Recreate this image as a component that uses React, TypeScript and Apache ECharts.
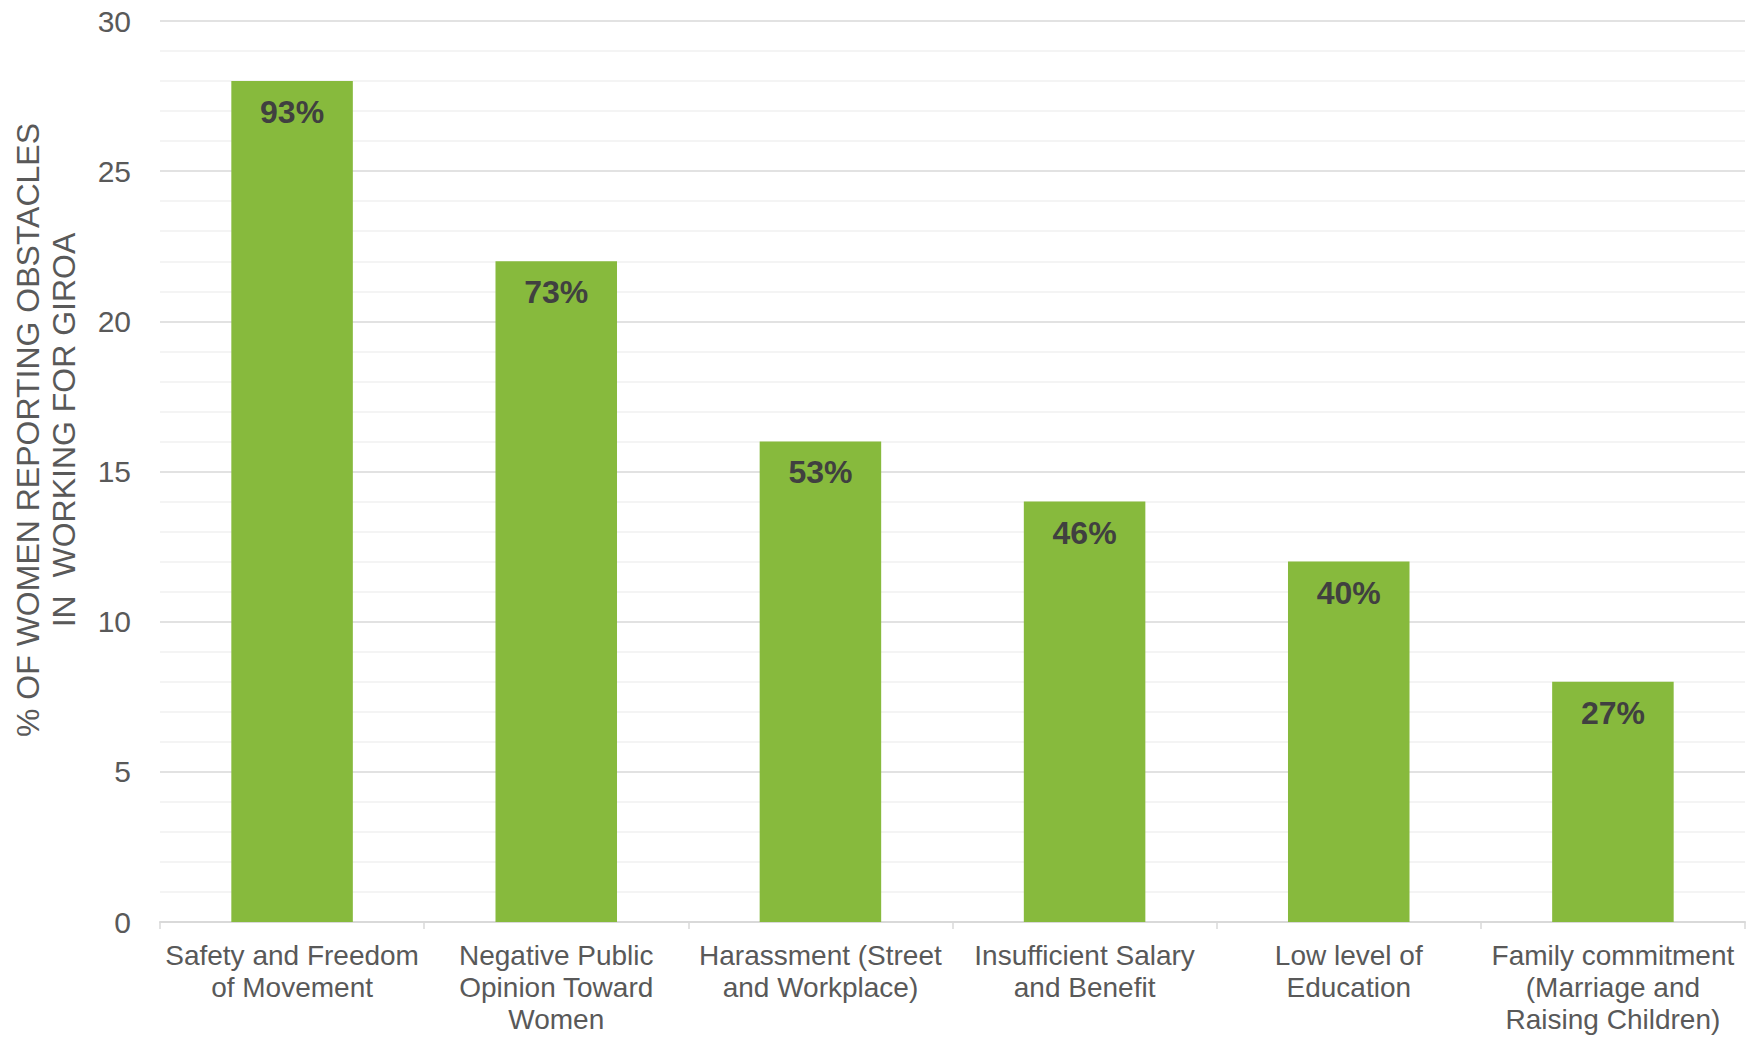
import React, { useEffect, useRef } from "react";
import * as echarts from "echarts";

const categories = [
  "Safety and Freedom\nof Movement",
  "Negative Public\nOpinion Toward\nWomen",
  "Harassment (Street\nand Workplace)",
  "Insufficient Salary\nand Benefit",
  "Low level of\nEducation",
  "Family commitment\n(Marriage and\nRaising Children)",
];
const counts = [28, 22, 16, 14, 12, 8];
const percentLabels = ["93%", "73%", "53%", "46%", "40%", "27%"];
const yAxisTitle = "% OF WOMEN REPORTING OBSTACLES\nIN  WORKING FOR GIROA";

const FONT = '"Liberation Sans", Arial, sans-serif';

export default function App() {
  const ref = useRef<HTMLDivElement>(null);
  useEffect(() => {
    if (!ref.current) return;
    const chart = echarts.init(ref.current, null, { renderer: "svg" });
    chart.setOption({
      animation: false,
      backgroundColor: "#ffffff",
      grid: { left: 160, right: 7, top: 21, bottom: 115, containLabel: false },
      xAxis: {
        type: "category",
        data: categories,
        axisLine: { show: true, lineStyle: { color: "#d9d9d9", width: 2 } },
        axisTick: { show: true, alignWithLabel: false, length: 7, lineStyle: { color: "#d9d9d9", width: 1.5 } },
        axisLabel: {
          interval: 0,
          margin: 17,
          color: "#595959",
          fontSize: 28,
          lineHeight: 32,
          fontFamily: FONT,
          align: "center",
        },
        splitLine: { show: false },
      },
      yAxis: {
        type: "value",
        min: 0,
        max: 30,
        interval: 5,
        axisLine: { show: false },
        axisTick: { show: false },
        axisLabel: { color: "#595959", fontSize: 30, fontFamily: FONT, margin: 29 },
        splitLine: { show: true, lineStyle: { color: "#d9d9d9", width: 1.5 } },
        minorTick: { show: false, splitNumber: 5 },
        minorSplitLine: { show: true, lineStyle: { color: "#f0f0f0", width: 1.5 } },
      },
      graphic: [
        {
          type: "text",
          x: 46,
          y: 430,
          rotation: Math.PI / 2,
          style: {
            text: yAxisTitle,
            fill: "#595959",
            font: `32px ${FONT}`,
            lineHeight: 36,
            align: "center",
            verticalAlign: "middle",
          },
        },
      ],
      series: [
        {
          type: "bar",
          data: counts,
          barWidth: "46%",
          itemStyle: { color: "#87ba3d" },
          label: {
            show: true,
            position: "insideTop",
            distance: 15,
            formatter: (p: any) => percentLabels[p.dataIndex],
            color: "#404040",
            fontWeight: "bold",
            fontSize: 32,
            fontFamily: FONT,
          },
        },
      ],
    });
    return () => chart.dispose();
  }, []);
  return (
    <div
      ref={ref}
      style={{ position: "fixed", left: 0, top: 0, width: 1752, height: 1037 }}
    />
  );
}
